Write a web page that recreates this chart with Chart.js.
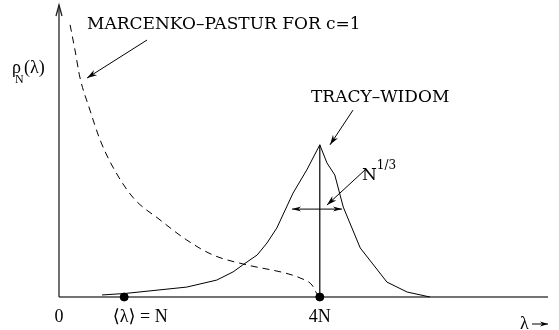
<!DOCTYPE html>
<html><head><meta charset="utf-8">
<script src="https://cdn.jsdelivr.net/npm/chart.js@4/dist/chart.umd.min.js"></script>
<style>html,body{margin:0;padding:0;background:#fff}canvas{display:block}</style>
</head><body>
<canvas id="c" width="559" height="330"></canvas>
<script>
// ---- data (x in units of N, y in arbitrary density units) ----
const mpX = [0.17, 0.245, 0.32, 0.475, 0.63, 0.81, 1.13, 1.55, 1.96, 2.36, 2.88, 3.47, 3.70, 3.88, 3.94, 3.99];
const mpY = [0.932, 0.846, 0.753, 0.640, 0.538, 0.452, 0.342, 0.264, 0.195, 0.144, 0.110, 0.082, 0.065, 0.041, 0.017, 0.0];
const twX = [0.66, 1.01, 1.96, 2.42, 2.67, 2.82, 3.04, 3.19, 3.34, 3.59, 3.80, 4.00, 4.11, 4.23, 4.36, 4.62, 5.03, 5.34, 5.69];
const twY = [0.007, 0.012, 0.034, 0.058, 0.086, 0.110, 0.144, 0.185, 0.236, 0.356, 0.435, 0.521, 0.459, 0.418, 0.308, 0.168, 0.051, 0.017, 0.0];
const markerX = [1, 4];
const tickValues = [0, 1, 4];
const tickLabels = ['0', '\u27E8\u03BB\u27E9 = N', '4N'];
const widthBar = [3.574, 4.340];   // N^(1/3) double arrow extent
const widthBarY = 0.301;
const mpLabel = 'MARCENKO\u2013PASTUR FOR c=1';
const twLabel = 'TRACY\u2013WIDOM';

const peakIdx = twY.indexOf(Math.max(...twY));
const peakX = twX[peakIdx], peakY = twY[peakIdx];

const SERIF_T = '"Liberation Serif", "DejaVu Serif", serif';
const SERIF_C = '"DejaVu Serif", serif';

function arrowHead(ctx, x0, y0, x1, y1, len, half) {
  const a = Math.atan2(y1 - y0, x1 - x0);
  ctx.beginPath();
  ctx.moveTo(x1, y1);
  ctx.lineTo(x1 - len * Math.cos(a) + half * Math.sin(a), y1 - len * Math.sin(a) - half * Math.cos(a));
  ctx.lineTo(x1 - len * 0.7 * Math.cos(a), y1 - len * 0.7 * Math.sin(a));
  ctx.lineTo(x1 - len * Math.cos(a) - half * Math.sin(a), y1 - len * Math.sin(a) + half * Math.cos(a));
  ctx.closePath();
  ctx.fill();
}
function arrow(ctx, x0, y0, x1, y1) {
  ctx.beginPath(); ctx.moveTo(x0, y0); ctx.lineTo(x1, y1); ctx.stroke();
  arrowHead(ctx, x0, y0, x1, y1, 10, 3);
}

const decor = {
  id: 'decor',
  beforeDatasetsDraw(chart) {
    const {ctx, chartArea: ca} = chart;
    ctx.save();
    ctx.strokeStyle = '#444'; ctx.lineWidth = 1.5;
    ctx.beginPath(); ctx.moveTo(ca.left, ca.bottom); ctx.lineTo(ca.right, ca.bottom); ctx.stroke();
    ctx.strokeStyle = '#222'; ctx.lineWidth = 1.3;
    ctx.beginPath(); ctx.moveTo(ca.left, ca.bottom); ctx.lineTo(ca.left, ca.top); ctx.stroke();
    ctx.beginPath(); ctx.moveTo(ca.left - 3, ca.top + 11); ctx.lineTo(ca.left, ca.top); ctx.lineTo(ca.left + 3, ca.top + 11); ctx.stroke();
    ctx.restore();
  },
  afterDatasetsDraw(chart) {
    const {ctx, chartArea: ca, scales: {x, y}} = chart;
    ctx.save();
    ctx.fillStyle = '#000'; ctx.strokeStyle = '#000'; ctx.lineWidth = 1;
    // tick labels
    ctx.font = '18px ' + SERIF_T; ctx.textBaseline = 'alphabetic';
    tickValues.forEach((v, i) => {
      const px = x.getPixelForValue(v);
      const lab = tickLabels[i];
      const anchor = lab.split(' = ')[0];
      ctx.textAlign = 'left';
      ctx.fillText(lab, px - ctx.measureText(anchor).width / 2, ca.bottom + 25);
    });
    // axis titles
    ctx.font = '18px ' + SERIF_T;
    ctx.textAlign = 'left';
    ctx.fillText('\u03C1', ca.left - 47, ca.bottom - 224);
    ctx.font = '12px ' + SERIF_T;
    ctx.fillText('N', ca.left - 44, ca.bottom - 214);
    ctx.font = '18px ' + SERIF_T;
    ctx.fillText('(\u03BB)', ca.left - 35, ca.bottom - 224);
    ctx.fillText('\u03BB', ca.right - 28, ca.bottom + 32);
    const ax = ca.right - 16, ay = ca.bottom + 27;
    ctx.beginPath(); ctx.moveTo(ax, ay); ctx.lineTo(ca.right, ay); ctx.stroke();
    arrowHead(ctx, ax, ay, ca.right, ay, 8, 2.5);
    // annotations
    ctx.font = '17px ' + SERIF_C;
    ctx.fillText(mpLabel, x.getPixelForValue(0.43), y.getPixelForValue(0.918));
    arrow(ctx, x.getPixelForValue(1.35), y.getPixelForValue(0.880), x.getPixelForValue(0.43), y.getPixelForValue(0.750));
    ctx.fillText(twLabel, x.getPixelForValue(3.865), y.getPixelForValue(0.668));
    arrow(ctx, x.getPixelForValue(4.509), y.getPixelForValue(0.640), x.getPixelForValue(4.156), y.getPixelForValue(0.521));
    const nx = x.getPixelForValue(4.647), ny = y.getPixelForValue(0.401);
    ctx.fillText('N', nx, ny);
    const nw = ctx.measureText('N').width;
    ctx.font = '12px ' + SERIF_C;
    ctx.fillText('1/3', nx + nw, ny - 11);
    arrow(ctx, x.getPixelForValue(4.693), y.getPixelForValue(0.435), x.getPixelForValue(4.110), y.getPixelForValue(0.315));
    // width double arrow
    const wy = y.getPixelForValue(widthBarY), w0 = x.getPixelForValue(widthBar[0]), w1 = x.getPixelForValue(widthBar[1]);
    ctx.beginPath(); ctx.moveTo(w0, wy); ctx.lineTo(w1, wy); ctx.stroke();
    arrowHead(ctx, w1, wy, w0, wy, 9, 2.5);
    arrowHead(ctx, w0, wy, w1, wy, 9, 2.5);
    ctx.restore();
  }
};

new Chart(document.getElementById('c'), {
  type: 'scatter',
  data: {
    datasets: [
      { data: mpX.map((v, i) => ({x: v, y: mpY[i]})), showLine: true, borderColor: '#000', borderWidth: 1,
        borderDash: [7, 5], pointRadius: 0, tension: 0.3, cubicInterpolationMode: 'monotone' },
      { data: twX.map((v, i) => ({x: v, y: twY[i]})), showLine: true, borderColor: '#000', borderWidth: 1,
        pointRadius: 0, tension: 0 },
      { data: [{x: peakX, y: 0}, {x: peakX, y: peakY}], showLine: true, borderColor: '#000', borderWidth: 1.2, pointRadius: 0 },
      { data: markerX.map(v => ({x: v, y: 0})), showLine: false, pointRadius: 4, backgroundColor: '#000', borderColor: '#000' }
    ]
  },
  options: {
    responsive: false, animation: false, devicePixelRatio: 1,
    layout: { padding: { left: 59, right: 11, top: 5, bottom: 33 } },
    plugins: { legend: { display: false }, tooltip: { enabled: false } },
    scales: {
      x: { type: 'linear', min: 0, max: 7.5, display: false },
      y: { type: 'linear', min: 0, max: 1, display: false }
    },
    clip: false
  },
  plugins: [decor]
});
</script>
</body></html>
